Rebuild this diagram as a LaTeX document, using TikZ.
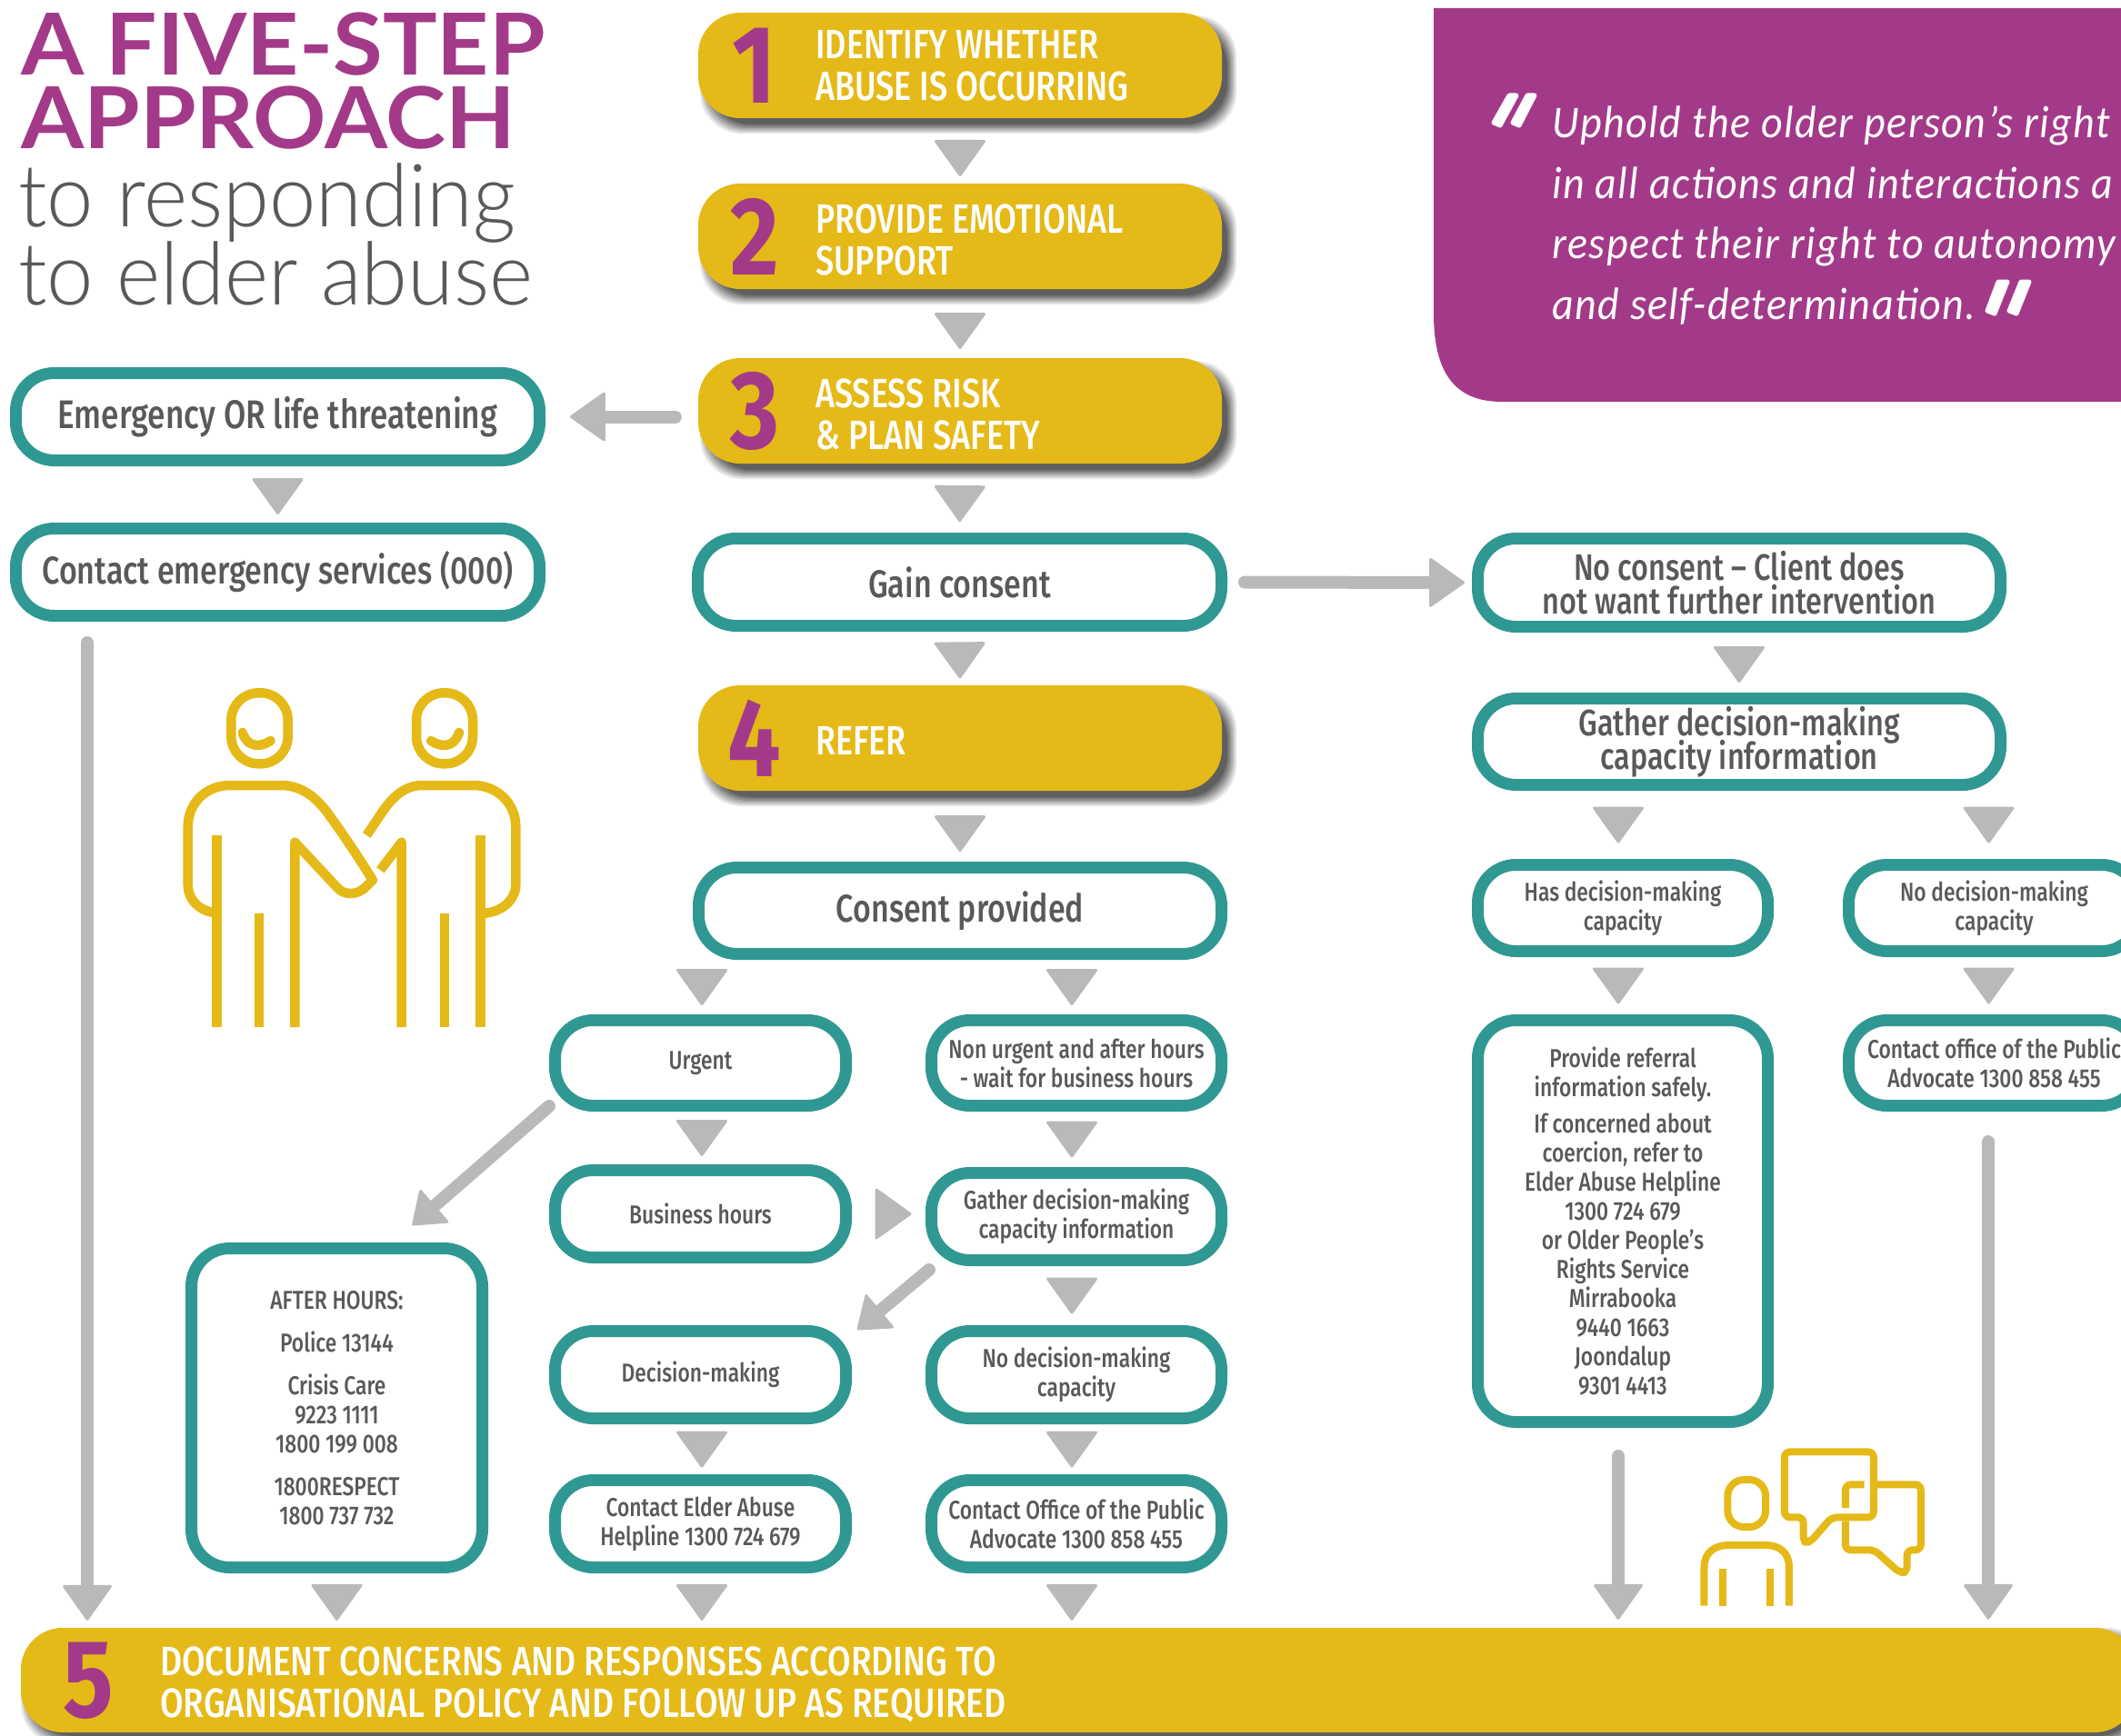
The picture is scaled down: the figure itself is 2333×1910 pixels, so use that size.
\documentclass[tikz,border=0pt]{standalone}
\usepackage{fontspec}
\usetikzlibrary{arrows.meta,calc,decorations.markings}
\newfontfamily\labfont[FakeStretch=0.80]{Fira Sans Medium}
\newfontfamily\capfont[FakeStretch=0.80]{Fira Sans Medium}
\newfontfamily\bandfont[FakeStretch=0.825]{Fira Sans Medium}
\newfontfamily\numfont[FakeStretch=0.85]{Fira Sans Bold}
\newfontfamily\titlebold[FakeStretch=1.06]{Lato Bold}
\newfontfamily\titlelight[FakeStretch=0.96]{Lato Light}
\newfontfamily\quotefont[LetterSpace=3,FakeStretch=0.92]{Carlito Italic}
\definecolor{cTeal}{HTML}{309892}
\definecolor{cGold}{HTML}{E5B917}
\definecolor{cPurple}{HTML}{A33A89}
\definecolor{cGray}{HTML}{B9B9B9}
\definecolor{cText}{HTML}{58595B}
\lineskiplimit=-100pt
\normallineskiplimit=-100pt
\tikzset{
  tealbox/.style={draw=cTeal,fill=white,line width=13pt,rounded corners=42pt,inner sep=0pt,align=center,text=cText},
  emergtext/.style={font=\labfont\fontsize{44}{37}\selectfont},
  hugetext/.style={font=\labfont\fontsize{42.5}{37}\selectfont},
  bigtext/.style={font=\labfont\fontsize{40.5}{37}\selectfont},
  smalltext/.style={font=\labfont\fontsize{28.5}{32}\selectfont},
  goldbox/.style={fill=cGold,rounded corners=46pt,inner sep=0pt},
  goldlabel/.style={text=white,font=\capfont\fontsize{45}{46}\selectfont,align=left,anchor=west,inner sep=0pt},
  bandlabel/.style={goldlabel,font=\bandfont\fontsize{45}{46}\selectfont},
  goldnum/.style={text=cPurple,font=\numfont\fontsize{122}{122}\selectfont,inner sep=0pt},
  tri/.style={decorate,decoration={markings,mark=at position 0.5 with {
     \fill[cGray,draw=cGray,line width=3pt,line join=round,shift={(#1)}] (18.5pt,0pt) -- (-18.5pt,26.5pt) -- (-18.5pt,-26.5pt) -- cycle;}}},
  tri/.default={0pt,0pt},
  bigarrow/.style={draw=cGray,line width=14pt,line cap=round,-{Triangle[length=40pt,width=56pt,line width=3pt,round]}},
  diagarrow/.style={draw=cGray,line width=14pt,line cap=round,-{Triangle[length=34pt,width=50pt,line width=3pt,round]}},
  icon/.style={draw=cGold,line width=10.5pt},
  iconb/.style={draw=cGold,line width=8pt},
  qmark/.style={fill=white,draw=white,line width=5pt,line join=round},
}
\newcommand\tbox[6][smalltext]{%
  \pgfmathsetmacro\cx{(#3+#5)/2}\pgfmathsetmacro\cy{(#4+#6)/2}%
  \pgfmathsetmacro\bw{#5-#3-13}\pgfmathsetmacro\bh{#6-#4-13}%
  \node[tealbox,#1,minimum width=\bw pt,minimum height=\bh pt] (#2) at (\cx,\cy) {\tboxtext};}
\newcommand\softshadow[4]{%
  \foreach \e/\o in {7/0.10,5/0.12,3/0.14,1/0.16,-1/0.18,-3/0.20}{%
    \pgfmathsetmacro\sa{#1-\e}\pgfmathsetmacro\sb{#2-\e}\pgfmathsetmacro\sc{#3+\e}\pgfmathsetmacro\sd{#4+\e}%
    \fill[black,opacity=\o,rounded corners=46pt] (\sa,\sb) rectangle (\sc,\sd);}}
\newcommand\goldstep[8]{% name x1 y1 x2 y2 numeral text labelshift
  \softshadow{#2+9}{#3+10}{#4+9}{#5+10}%
  \pgfmathsetmacro\cx{(#2+#4)/2}\pgfmathsetmacro\cy{(#3+#5)/2}%
  \pgfmathsetmacro\bw{#4-#2}\pgfmathsetmacro\bh{#5-#3}%
  \node[goldbox,minimum width=\bw pt,minimum height=\bh pt] (#1) at (\cx,\cy) {};
  \pgfmathsetmacro\nx{#2+62}%
  \node[goldnum] (#1num) at (\nx,\cy) {#6};
  \pgfmathsetmacro\lx{#2+129}\pgfmathsetmacro\ly{\cy+#8}%
  \node[goldlabel] (#1txt) at (\lx,\ly) {#7};}
\begin{document}
\begin{tikzpicture}[x=1pt,y=-1pt]
\useasboundingbox (0,0) rectangle (2333,1910);
% quote panel
\fill[cPurple] (1577,9) -- (2345,9) -- (2345,442) -- (1652,442) .. controls (1600,442) and (1577,410) .. (1577,345) -- cycle;
\node[text=white,font=\quotefont\fontsize{50}{66.5}\selectfont,align=left,anchor=north west,inner sep=0pt] (quote) at (1707,117)
  {Uphold the older person’s right\\in all actions and interactions a\\respect their right to autonomy\\and self-determination.};
\fill[qmark] (1660,105) -- (1668,105) -- (1650,138) -- (1643,135) -- cycle;
\fill[qmark] (1680,105) -- (1688,105) -- (1671,138) -- (1664,135) -- cycle;
\fill[qmark] (2198,310) -- (2208,310) -- (2194,345) -- (2186,342) -- cycle;
\fill[qmark] (2223,310) -- (2232,310) -- (2218,345) -- (2210,342) -- cycle;
% title
\node[text=cPurple,font=\titlebold\fontsize{94}{94}\selectfont,anchor=base west,inner sep=0pt] (t1) at (23,83) {A FIVE-STEP};
\node[text=cPurple,font=\titlebold\fontsize{94}{94}\selectfont,anchor=base west,inner sep=0pt] (t2) at (23,164) {APPROACH};
\node[text=cText,font=\titlelight\fontsize{96}{96}\selectfont,anchor=base west,inner sep=0pt] (t3) at (20,250) {to responding};
\node[text=cText,font=\titlelight\fontsize{96}{96}\selectfont,anchor=base west,inner sep=0pt] (t4) at (20,335) {to elder abuse};
% gold steps
\goldstep{s1}{768}{14}{1344}{130}{1}{IDENTIFY WHETHER\\ABUSE IS OCCURRING}{0}
\goldstep{s2}{768}{202}{1344}{318}{2}{PROVIDE EMOTIONAL\\SUPPORT}{4}
\goldstep{s3}{768}{394}{1344}{510}{3}{ASSESS RISK\\\& PLAN SAFETY}{4}
\goldstep{s4}{768}{754}{1344}{870}{4}{REFER}{3}
\softshadow{23+7}{1791+7}{2350+7}{1906+7}
\node[goldbox,minimum width=2327pt,minimum height=115pt] (band) at (1186.5,1848.5) {};
\node[goldnum] (bandnum) at (97,1849) {5};
\node[bandlabel] (bandtxt) at (176,1853) {DOCUMENT CONCERNS AND RESPONSES ACCORDING TO\\ORGANISATIONAL POLICY AND FOLLOW UP AS REQUIRED};
% teal boxes
\def\tboxtext{Emergency OR life threatening}\tbox[emergtext]{emerg}{11}{404}{600}{513}
\def\tboxtext{Contact emergency services (000)}\tbox[hugetext]{emc}{11}{575}{600}{684}
\def\tboxtext{Gain consent}\tbox[hugetext]{gain}{761}{586}{1350}{695}
\def\tboxtext{No consent – Client does\\not want further intervention}\tbox[bigtext]{nocons}{1619}{586}{2207}{696}
\def\tboxtext{Gather decision-making\\capacity information}\tbox[bigtext]{gath}{1619}{762}{2207}{870}
\def\tboxtext{Has decision-making\\capacity}\tbox{hasdm}{1619}{945}{1951}{1053}
\def\tboxtext{No decision-making\\capacity}\tbox{nodmr}{2027}{945}{2360}{1053}
\def\tboxtext{Provide referral\\information safely.\\[8pt]If concerned about\\coercion, refer to\\Elder Abuse Helpline\\1300 724 679\\or Older People’s\\Rights Service\\Mirrabooka\\9440 1663\\Joondalup\\9301 4413}\tbox{prov}{1619}{1116}{1951}{1571}
\def\tboxtext{Contact office of the Public\\Advocate 1300 858 455}\tbox{offr}{2027}{1116}{2360}{1223}
\def\tboxtext{Consent provided}\tbox[hugetext]{consp}{762}{948}{1350}{1056}
\def\tboxtext{Urgent}\tbox{urg}{604}{1116}{937}{1223}
\def\tboxtext{Non urgent and after hours\\- wait for business hours}\tbox{nonurg}{1018}{1116}{1350}{1223}
\def\tboxtext{Business hours}\tbox{bus}{604}{1281}{937}{1390}
\def\tboxtext{Gather decision-making\\capacity information}\tbox{gath2}{1018}{1284}{1350}{1393}
\def\tboxtext{Decision-making}\tbox{dec}{604}{1458}{937}{1567}
\def\tboxtext{No decision-making\\capacity}\tbox{nodm}{1018}{1458}{1350}{1567}
\def\tboxtext{Contact Elder Abuse\\Helpline 1300 724 679}\tbox{elder}{604}{1622}{937}{1731}
\def\tboxtext{Contact Office of the Public\\Advocate 1300 858 455}\tbox{office}{1018}{1622}{1350}{1731}
\def\tboxtext{AFTER HOURS:\\[15pt]Police 13144\\[15pt]Crisis Care\\9223 1111\\1800 199 008\\[15pt]1800RESPECT\\1800 737 732}\tbox{after}{204}{1367}{537}{1731}
% triangular connectors
\path[tri={8pt,0pt}] (s1.south) -- (s2.north);
\path[tri={8pt,0pt}] (s2.south) -- (s3.north);
\path[tri={6pt,0pt}] (s3.south) -- (gain.north);
\path[tri={2pt,0pt}] (gain.south) -- (s4.north);
\path[tri={8pt,0pt}] (s4.south) -- (consp.north);
\path[tri={2pt,0pt}] (emerg.south) -- (emc.north);
\path[tri={2pt,0pt}] (nocons.south) -- (gath.north);
\path[tri={0pt,-5pt}] (gath.south -| hasdm.north) -- (hasdm.north);
\path[tri={0pt,-6pt}] (gath.south -| nodmr.north) -- (nodmr.north);
\path[tri={0pt,-5pt}] (hasdm.south) -- (prov.north);
\path[tri={0pt,-6pt}] (nodmr.south) -- (offr.north);
\path[tri={0pt,1.5pt}] (consp.south -| urg.north) -- (urg.north);
\path[tri={0pt,-5pt}] (consp.south -| nonurg.north) -- (nonurg.north);
\path[tri={0pt,1.5pt}] (urg.south) -- (bus.north);
\path[tri={0pt,-5pt}] (nonurg.south) -- (gath2.north);
\path[tri={0pt,-5pt}] (gath2.south) -- (nodm.north);
\path[tri={0pt,1.5pt}] (dec.south) -- (elder.north);
\path[tri={0pt,-5pt}] (nodm.south) -- (office.north);
\path[tri={5pt,0pt}] (bus.east) -- (bus.east -| gath2.west);
\path[tri={2pt,0pt}] (after.south) -- (band.north -| after.south);
\path[tri={2pt,1.5pt}] (elder.south) -- (band.north -| elder.south);
\path[tri={2pt,-5pt}] (office.south) -- (band.north -| office.south);
% long arrows
\coordinate (leftx) at (96,0);
\coordinate (provx) at (1780,0);
\coordinate (rightx) at (2187,0);
\draw[bigarrow,shorten <=25pt,shorten >=27pt] (s3.west |- emerg.east) -- (emerg.east);
\draw[bigarrow,shorten <=19pt,shorten >=8pt] (gain.east) -- (nocons.west);
\draw[bigarrow,shorten <=23pt,shorten >=8pt] (leftx |- emc.south) -- (leftx |- band.north);
\draw[bigarrow,shorten <=31pt,shorten >=9pt] (provx |- prov.south) -- (provx |- band.north);
\draw[bigarrow,shorten <=33pt,shorten >=9pt] (rightx |- offr.south) -- (rightx |- band.north);
\draw[diagarrow] ($(urg.south west)+(0,-6)$) -- ($(after.north)+(83,-19)$);
\draw[diagarrow] ($(gath2.south west)+(4,4)$) -- ($(dec.north east)+(6,5)$);
% handshake icon
\begin{scope}[shift={(170,720)},x=0.33333pt,y=-0.33333pt,line join=round]
\draw[icon,rounded corners=30pt] (253,127) rectangle (440,361);
\draw[icon,rounded corners=30pt] (864,127) rectangle (1050,361);
\draw[icon,line cap=round] (290,258) .. controls (305,305) and (345,310) .. (383,285);
\draw[icon,line cap=round] (1005,258) .. controls (990,305) and (950,310) .. (912,285);
\draw[icon] (205,853) .. controls (150,850) and (110,810) .. (110,760) -- (110,570) .. controls (110,490) and (170,432) .. (250,432) -- (415,432) .. controls (480,432) and (525,465) .. (565,515) .. controls (620,590) and (670,665) .. (720,745) -- (692,772) .. controls (665,795) and (625,795) .. (603,770) -- (463,620) -- (463,1230);
\draw[icon] (205,597) -- (205,1230);
\draw[icon] (345,855) -- (345,1230);
\draw[icon] (1075,597) -- (1075,1230);
\draw[icon] (957,855) -- (957,1230);
\draw[icon] (815,1230) -- (815,620) -- (745,712);
\draw[icon] (700,597) -- (755,515) .. controls (790,465) and (830,432) .. (885,432) -- (1050,432) .. controls (1130,432) and (1192,490) .. (1192,570) -- (1192,760) .. controls (1192,810) and (1145,855) .. (1075,855);
\end{scope}
% person with speech bubbles
\begin{scope}[shift={(1800,1550)},x=0.34pt,y=-0.33333pt,line join=round]
\draw[iconb,rounded corners=18pt] (295,234) rectangle (418,390);
\draw[iconb] (219,650) -- (219,525) .. controls (219,475) and (250,450) .. (300,450) -- (415,450) .. controls (465,450) and (494,475) .. (494,525) -- (494,650);
\draw[iconb] (280,527) -- (280,650);
\draw[iconb] (432,527) -- (432,650);
\draw[iconb,rounded corners=6pt] (479,142) -- (767,142) -- (767,358) -- (632,358) -- (562,440) -- (540,440) -- (540,358) -- (479,358) -- cycle;
\draw[iconb,rounded corners=6pt] (737,250) -- (676,250) -- (676,327);
\draw[iconb,rounded corners=6pt] (767,250) -- (920,250) -- (920,466) -- (875,466) -- (875,540) -- (850,540) -- (770,466) -- (676,466) -- (676,370);
\end{scope}
\end{tikzpicture}
\end{document}
